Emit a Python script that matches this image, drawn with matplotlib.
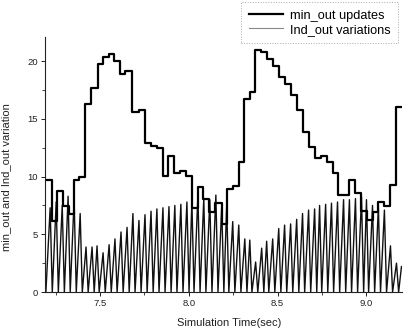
import matplotlib.pyplot as plt
import numpy as np

plt.rcParams["font.family"] = ["Liberation Sans", "DejaVu Sans"]

# min_out updates: step edges (sec) and the level held after each edge
step_t = [7.191, 7.229, 7.257, 7.290, 7.327, 7.355, 7.384, 7.416, 7.449, 7.487,
          7.519, 7.551, 7.579, 7.612, 7.640, 7.681, 7.719, 7.753, 7.787, 7.819,
          7.852, 7.884, 7.917, 7.949, 7.983, 8.019, 8.049, 8.080, 8.114, 8.146,
          8.184, 8.215, 8.248, 8.281, 8.311, 8.343, 8.375, 8.408, 8.440, 8.473,
          8.507, 8.539, 8.573, 8.611, 8.642, 8.676, 8.712, 8.745, 8.777, 8.811,
          8.839, 8.904, 8.938, 8.970, 9.004, 9.035, 9.067, 9.101, 9.135, 9.167,
          9.197]
step_v = [9.7, 6.15, 8.75, 7.45, 6.8, 9.75, 10.0, 16.3, 17.7, 19.8,
          20.4, 20.6, 20.0, 18.9, 19.15, 15.6, 15.75, 12.9, 12.65, 12.45,
          10.05, 11.8, 10.3, 10.5, 10.05, 7.25, 9.1, 8.1, 6.95, 7.75,
          5.9, 8.9, 9.2, 11.3, 16.7, 17.3, 21.0, 20.8, 20.2, 19.6,
          18.6, 18.05, 17.05, 15.75, 13.9, 12.6, 11.65, 11.8, 11.3, 10.35,
          8.45, 9.75, 8.55, 7.05, 6.25, 6.95, 7.8, 7.45, 9.25, 16.05,
          16.05]

# Ind_out variations: sawtooth peak times (sec) and peak values
saw_t = [7.219, 7.253, 7.287, 7.320, 7.354, 7.388, 7.421, 7.455, 7.483, 7.517,
         7.551, 7.584, 7.618, 7.652, 7.685, 7.719, 7.753, 7.787, 7.820, 7.854,
         7.888, 7.921, 7.955, 7.989, 8.017, 8.051, 8.084, 8.118, 8.152, 8.185,
         8.213, 8.247, 8.281, 8.315, 8.343, 8.376, 8.410, 8.438, 8.472, 8.506,
         8.539, 8.573, 8.607, 8.640, 8.674, 8.708, 8.736, 8.770, 8.803, 8.837,
         8.871, 8.904, 8.938, 8.972, 9.000, 9.034, 9.067, 9.101, 9.135, 9.169]
saw_v = [7.3, 7.8, 7.5, 8.3, 8.0, 6.8, 3.9, 3.9, 4.0, 3.4,
         4.1, 4.6, 5.2, 5.6, 6.8, 6.2, 6.7, 7.0, 7.2, 7.3,
         7.4, 7.5, 7.6, 7.8, 7.9, 8.4, 8.1, 8.0, 8.4, 7.4,
         7.5, 6.1, 5.8, 4.6, 4.5, 2.6, 3.8, 4.4, 4.6, 5.5,
         5.8, 5.9, 6.3, 6.8, 7.1, 7.2, 7.5, 7.6, 7.7, 7.8,
         8.0, 8.0, 8.1, 8.25, 8.0, 7.5, 7.4, 7.1, 4.0, 2.5]

# each tooth: rise to the peak, quick fall back to zero
fall = 0.012
sx = [7.195]
sy = [0.0]
for t, v in zip(saw_t, saw_v):
    sx += [t, t + fall]
    sy += [v, 0.0]
sx += [9.197]
sy += [2.2]

fig = plt.figure(figsize=(4.07, 3.31), dpi=100)
ax = fig.add_axes([45 / 407, 1 - 292 / 331, 357 / 407, 255 / 331])

ax.plot(sx, sy, color="#111111", linewidth=1.0, label="Ind_out variations")
ax.step(step_t, step_v, where="post", color="black", linewidth=1.6, label="min_out updates")

ax.set_xlim(7.19, 9.2)
ax.set_ylim(0, 22.1)
ax.set_xticks([7.5, 8.0, 8.5, 9.0])
ax.set_xticks(np.arange(7.25, 9.2, 0.25), minor=True)
ax.set_yticks([0, 5, 10, 15, 20])
ax.set_yticks(np.arange(0, 22, 2.5), minor=True)
ax.tick_params(which="major", length=3, width=0.7, labelsize=6.8, colors="#222222", pad=2)
ax.tick_params(which="minor", length=2, width=0.6, colors="#222222")

for side in ["top", "right"]:
    ax.spines[side].set_visible(False)
for side in ["left", "bottom"]:
    ax.spines[side].set_linewidth(0.8)
    ax.spines[side].set_color("#222222")

ax.set_xlabel("Simulation Time(sec)", fontsize=8, color="#222222")
ax.set_ylabel("min_out and Ind_out variation", fontsize=8, color="#222222")
ax.xaxis.set_label_coords(0.517, -0.1)
ax.yaxis.set_label_coords(-0.095, 0.449)

handles, labels = ax.get_legend_handles_labels()
leg = fig.legend(handles[::-1], labels[::-1], loc="upper right",
                 bbox_to_anchor=(398 / 407, 1 - 2 / 331), borderaxespad=0,
                 fontsize=9.2, handlelength=2.7, fancybox=False,
                 framealpha=1, edgecolor="#aaaaaa", borderpad=0.6,
                 labelspacing=0.15, handletextpad=0.5)
leg.get_frame().set_linestyle(":")
leg.get_frame().set_linewidth(0.7)
leg.legend_handles[1].set_color("#888888")
leg.legend_handles[1].set_linewidth(0.8)

fig.savefig("out.png", dpi=100)
